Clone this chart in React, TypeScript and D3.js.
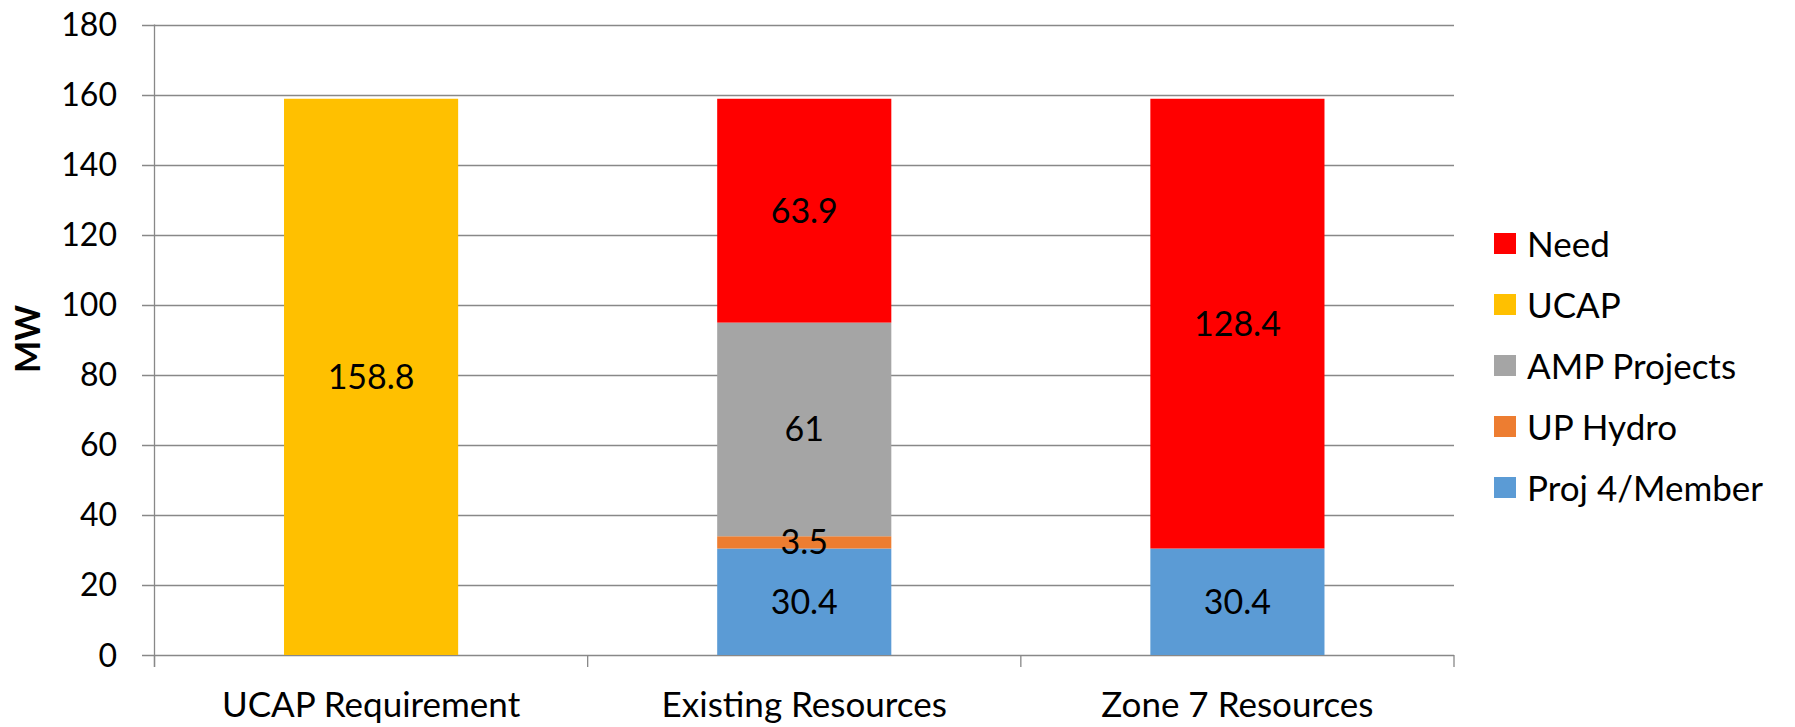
import React from "react";
import * as d3 from "d3";

// Categories along the x axis
const categories = ["UCAP Requirement", "Existing Resources", "Zone 7 Resources"];

// Series values (MW), listed bottom-to-top in the stack
const proj4Member = [0, 30.4, 30.4];
const upHydro = [0, 3.5, 0];
const ampProjects = [0, 61, 0];
const ucap = [158.8, 0, 0];
const need = [0, 63.9, 128.4];

const seriesNames = ["Proj 4/Member", "UP Hydro", "AMP Projects", "UCAP", "Need"];
const seriesColors = ["#5B9BD5", "#ED7D31", "#A5A5A5", "#FFC000", "#FF0000"];

const yTicks = [0, 20, 40, 60, 80, 100, 120, 140, 160, 180];

const W = 1795;
const H = 727;
const FONT = "Lato, 'Open Sans', sans-serif";

export default function App() {
  const seriesValues = [proj4Member, upHydro, ampProjects, ucap, need];
  const rows = categories.map((c, i) => {
    const r: Record<string, any> = { category: c };
    seriesNames.forEach((s, k) => (r[s] = seriesValues[k][i]));
    return r;
  });
  const stacked = d3.stack<any>().keys(seriesNames)(rows);

  const x = d3.scaleBand<string>().domain(categories).range([154.5, 1454]);
  const y = d3.scaleLinear().domain([0, 180]).range([655, 24.5]);
  const barW = x.bandwidth() * 0.402;

  const axisColor = "#888888";
  const boundaries = [...categories.map((c) => x(c)!), x.range()[1]];

  const legendOrder = [...seriesNames].reverse();

  return (
    <svg
      width={W}
      height={H}
      style={{ position: "absolute", left: 0, top: 0, background: "#fff" }}
      fontFamily={FONT}
    >
      {/* horizontal gridlines with tick stubs */}
      {yTicks.map((t) => (
        <line
          key={"g" + t}
          x1={142}
          x2={1454}
          y1={Math.round(y(t)) + 0.5}
          y2={Math.round(y(t)) + 0.5}
          stroke={axisColor}
          strokeWidth={1.3}
        />
      ))}
      {/* y axis line */}
      <line x1={154.5} x2={154.5} y1={y(180)} y2={667} stroke={axisColor} strokeWidth={1.3} />
      {/* category tick marks */}
      {boundaries.map((bx, i) => (
        <line key={"ct" + i} x1={bx} x2={bx} y1={y(0)} y2={667} stroke={axisColor} strokeWidth={1.3} />
      ))}
      {/* y tick labels */}
      {yTicks.map((t) => (
        <text
          key={"yl" + t}
          x={117}
          y={y(t) + 11.5}
          textAnchor="end"
          fontSize={32}
          fill="#000"
        >
          {t}
        </text>
      ))}
      {/* y axis title */}
      <text
        transform={`translate(${40},${339}) rotate(-90)`}
        textAnchor="middle"
        fontSize={34}
        fontWeight="bold"
        fill="#000"
      >
        MW
      </text>

      {/* stacked bars */}
      {stacked.map((layer, k) =>
        layer.map((d, i) => {
          const v = d[1] - d[0];
          if (v <= 0) return null;
          const cx = x(categories[i])! + x.bandwidth() / 2;
          return (
            <rect
              key={`b${k}-${i}`}
              x={cx - barW / 2}
              width={barW}
              y={y(d[1])}
              height={y(d[0]) - y(d[1])}
              fill={seriesColors[k]}
            />
          );
        })
      )}
      {/* data labels */}
      {stacked.map((layer, k) =>
        layer.map((d, i) => {
          const v = d[1] - d[0];
          if (v <= 0) return null;
          const cx = x(categories[i])! + x.bandwidth() / 2;
          const cy = (y(d[0]) + y(d[1])) / 2;
          return (
            <text
              key={`l${k}-${i}`}
              x={cx}
              y={cy + 12}
              textAnchor="middle"
              fontSize={34}
              fill="#000"
            >
              {seriesValues[k][i]}
            </text>
          );
        })
      )}

      {/* category labels */}
      {categories.map((c) => (
        <text
          key={"c" + c}
          x={x(c)! + x.bandwidth() / 2}
          y={717}
          textAnchor="middle"
          fontSize={35}
          fill="#000"
        >
          {c}
        </text>
      ))}

      {/* legend */}
      {legendOrder.map((name, j) => {
        const k = seriesNames.indexOf(name);
        const cy = 244 + j * 61;
        return (
          <g key={"lg" + name}>
            <rect x={1494} y={cy - 11} width={22} height={21} fill={seriesColors[k]} />
            <text x={1527} y={cy + 12.5} fontSize={35} fill="#000">
              {name}
            </text>
          </g>
        );
      })}
    </svg>
  );
}
